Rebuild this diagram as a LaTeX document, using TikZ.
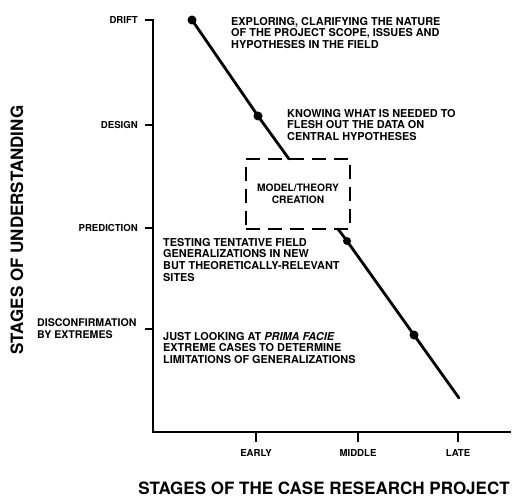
\documentclass[tikz,border=0pt]{standalone}
\usepackage{fontspec}
\setmainfont{TeX Gyre Heros}
\begin{document}
\begin{tikzpicture}[x=1pt,y=-1pt,
  axisline/.style={line width=2.4pt, line cap=rect},
  tickmark/.style={line width=2pt},
  trend/.style={line width=2.8pt, line cap=round},
  stagedot/.style={circle, fill=black, inner sep=0pt, minimum size=9pt},
  ticklbl/.style={font=\bfseries\fontsize{9.6}{11.5}\selectfont, inner sep=0pt},
  note/.style={font=\bfseries\fontsize{10.9}{11.7}\selectfont, align=left, inner sep=0pt, anchor=north west},
  axistitle/.style={font=\bfseries\fontsize{17}{20}\selectfont, inner sep=0pt},
  theorybox/.style={draw, line width=2.8pt, dash pattern=on 14pt off 8pt,
    minimum width=104pt, minimum height=70pt, inner sep=0pt,
    align=center, font=\bfseries\fontsize{10.2}{12}\selectfont}]
\useasboundingbox (0,0) rectangle (521,497);

% axes
\coordinate (origin) at (153,432);
\coordinate (ytop) at (153,20);
\coordinate (xend) at (510,432);
\draw[axisline] (ytop) -- (origin) -- (xend);

% vertical axis ticks and labels
\coordinate (tDrift) at (153,20);
\coordinate (tDesign) at (153,125);
\coordinate (tPred) at (153,228);
\coordinate (tDisc) at (153,329);
\foreach \t in {tDrift,tDesign,tPred,tDisc}
  \draw[tickmark] (\t) -- ++(-8,0);
\node[ticklbl, anchor=east] (lDrift) at (138,20) {DRIFT};
\node[ticklbl, anchor=east] (lDesign) at (138,125) {DESIGN};
\node[ticklbl, anchor=east] (lPred) at (138,228) {PREDICTION};
\node[ticklbl, anchor=west, align=left, font=\bfseries\fontsize{10.6}{11.8}\selectfont] (lDisc) at (37,329) {DISCONFIRMATION\\BY EXTREMES};

% horizontal axis ticks and labels
\coordinate (tEarly) at (256,432);
\coordinate (tMiddle) at (358,432);
\coordinate (tLate) at (458,432);
\foreach \t in {tEarly,tMiddle,tLate}
  \draw[tickmark] (\t) -- ++(0,10);
\node[ticklbl] (lEarly) at (256,453) {EARLY};
\node[ticklbl] (lMiddle) at (358,453) {MIDDLE};
\node[ticklbl] (lLate) at (458,453) {LATE};

% axis titles
\node[axistitle] (xtitle) at (324,488) {STAGES OF THE CASE RESEARCH PROJECT};
\node[axistitle, rotate=90] (ytitle) at (17,230) {STAGES OF UNDERSTANDING};

% model/theory box
\node[theorybox] (box) at (298,194) {MODEL/THEORY\\CREATION};

% trend line with stage dots
\node[stagedot] (d0) at (192,20) {};
\node[stagedot] (d1) at (258,116) {};
\coordinate (boxIn) at (289,159);
\coordinate (boxOut) at (338,229);
\node[stagedot, minimum size=8pt] (d2) at (347,241) {};
\node[stagedot] (d3) at (414,335) {};
\coordinate (lineEnd) at (459,398);
\draw[trend] (d0.center) -- (d1.center) -- (boxIn);
\draw[trend] (boxOut) -- (d2.center) -- (d3.center) -- (lineEnd);

% descriptions
\node[note] (n1) at (231,17) {EXPLORING, CLARIFYING THE NATURE\\OF THE PROJECT SCOPE, ISSUES AND\\HYPOTHESES IN THE FIELD};
\node[note] (n2) at (287,109) {KNOWING WHAT IS NEEDED TO\\FLESH OUT THE DATA ON\\CENTRAL HYPOTHESES};
\node[note] (n3) at (163,238) {TESTING TENTATIVE FIELD\\GENERALIZATIONS IN NEW\\BUT THEORETICALLY-RELEVANT\\SITES};
\node[note] (n4) at (163,332) {JUST LOOKING AT \textit{PRIMA FACIE}\\EXTREME CASES TO DETERMINE\\LIMITATIONS OF GENERALIZATIONS};
\end{tikzpicture}
\end{document}
